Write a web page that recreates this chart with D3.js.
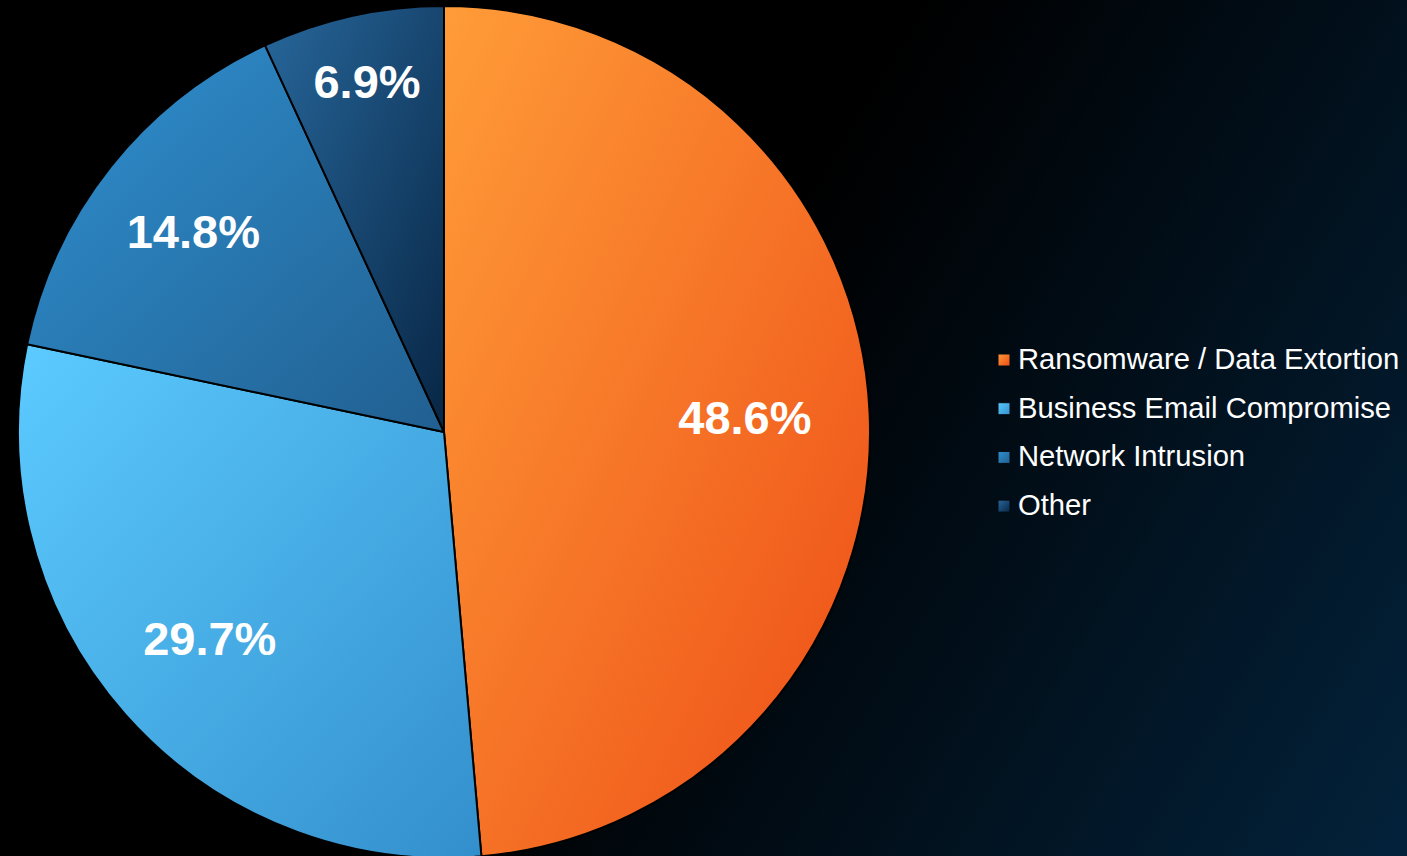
<!DOCTYPE html>
<html>
<head>
<meta charset="utf-8">
<script src="https://cdn.jsdelivr.net/npm/d3@7"></script>
<style>
  html, body { margin: 0; padding: 0; background: #000; overflow: hidden; }
  svg { display: block; font-family: Arial, "Liberation Sans", Helvetica, sans-serif; }
</style>
</head>
<body>
<svg id="chart" width="1407" height="856"></svg>
<script>
// Share of incidents by type
const categories = ["Ransomware / Data Extortion", "Business Email Compromise", "Network Intrusion", "Other"];
const shares = [48.6, 29.7, 14.8, 6.9];
const valueLabels = ["48.6%", "29.7%", "14.8%", "6.9%"];

// Slice gradient colours: light corner, dark corner
const lightColors = ["#ff9c38", "#5ccbff", "#2f90d0", "#27679b"];
const darkColors  = ["#ed4c16", "#338fcc", "#215f90", "#082645"];
// How far out each label sits, as a fraction of the radius
const labelRadius = [0.707, 0.735, 0.752, 0.84];

const W = 1407, H = 856;
const cx = 444, cy = 432, R = 426;
const FONT = 'Arial, "Liberation Sans", Helvetica, sans-serif';

const svg = d3.select("#chart");
const defs = svg.append("defs");

// Page background: black fading into deep navy toward the lower right
const bg = defs.append("linearGradient")
  .attr("id", "bg").attr("gradientUnits", "userSpaceOnUse")
  .attr("x1", 0).attr("y1", 0).attr("x2", W).attr("y2", H);
bg.append("stop").attr("offset", "0%").attr("stop-color", "#000000");
bg.append("stop").attr("offset", "48%").attr("stop-color", "#000000");
bg.append("stop").attr("offset", "100%").attr("stop-color", "#03223b");
svg.append("rect").attr("width", W).attr("height", H).attr("fill", "url(#bg)");

categories.forEach((c, i) => {
  const g = defs.append("linearGradient")
    .attr("id", "slice" + i)
    .attr("x1", "0").attr("y1", "0").attr("x2", "1").attr("y2", "1");
  g.append("stop").attr("offset", "0%").attr("stop-color", lightColors[i]);
  g.append("stop").attr("offset", "100%").attr("stop-color", darkColors[i]);
});

const pie = d3.pie().sort(null).value(d => d)
  .startAngle(0).endAngle(2 * Math.PI);
const arcs = pie(shares);
const arc = d3.arc().innerRadius(0).outerRadius(R);

const plot = svg.append("g").attr("transform", `translate(${cx},${cy})`);

plot.selectAll("path.slice")
  .data(arcs)
  .join("path")
  .attr("class", "slice")
  .attr("d", arc)
  .attr("fill", (d, i) => `url(#slice${i})`)
  .attr("stroke", "#000")
  .attr("stroke-width", 2)
  .attr("stroke-linejoin", "round");

plot.selectAll("text.value")
  .data(arcs)
  .join("text")
  .attr("class", "value")
  .attr("transform", (d, i) => {
    const r = R * labelRadius[i];
    const p = d3.arc().innerRadius(r).outerRadius(r).centroid(d);
    return `translate(${p[0]},${p[1]})`;
  })
  .attr("text-anchor", "middle")
  .attr("dy", "0.33em")
  .attr("fill", "#ffffff")
  .style("font-family", FONT)
  .attr("font-weight", "bold")
  .attr("font-size", 47)
  .text((d, i) => valueLabels[i]);

// Legend
const legend = svg.append("g").attr("transform", "translate(998,369)");
const rows = legend.selectAll("g.row")
  .data(categories)
  .join("g")
  .attr("class", "row")
  .attr("transform", (d, i) => `translate(0,${i * 48.7})`);

rows.append("rect")
  .attr("x", 0).attr("y", -15)
  .attr("width", 12).attr("height", 12)
  .attr("fill", (d, i) => `url(#slice${i})`)
  .attr("stroke", "#050a12")
  .attr("stroke-width", 1);

rows.append("text")
  .attr("x", 20).attr("y", 0)
  .attr("fill", "#ffffff")
  .style("font-family", FONT)
  .attr("font-size", 29.2)
  .text(d => d);
</script>
</body>
</html>
